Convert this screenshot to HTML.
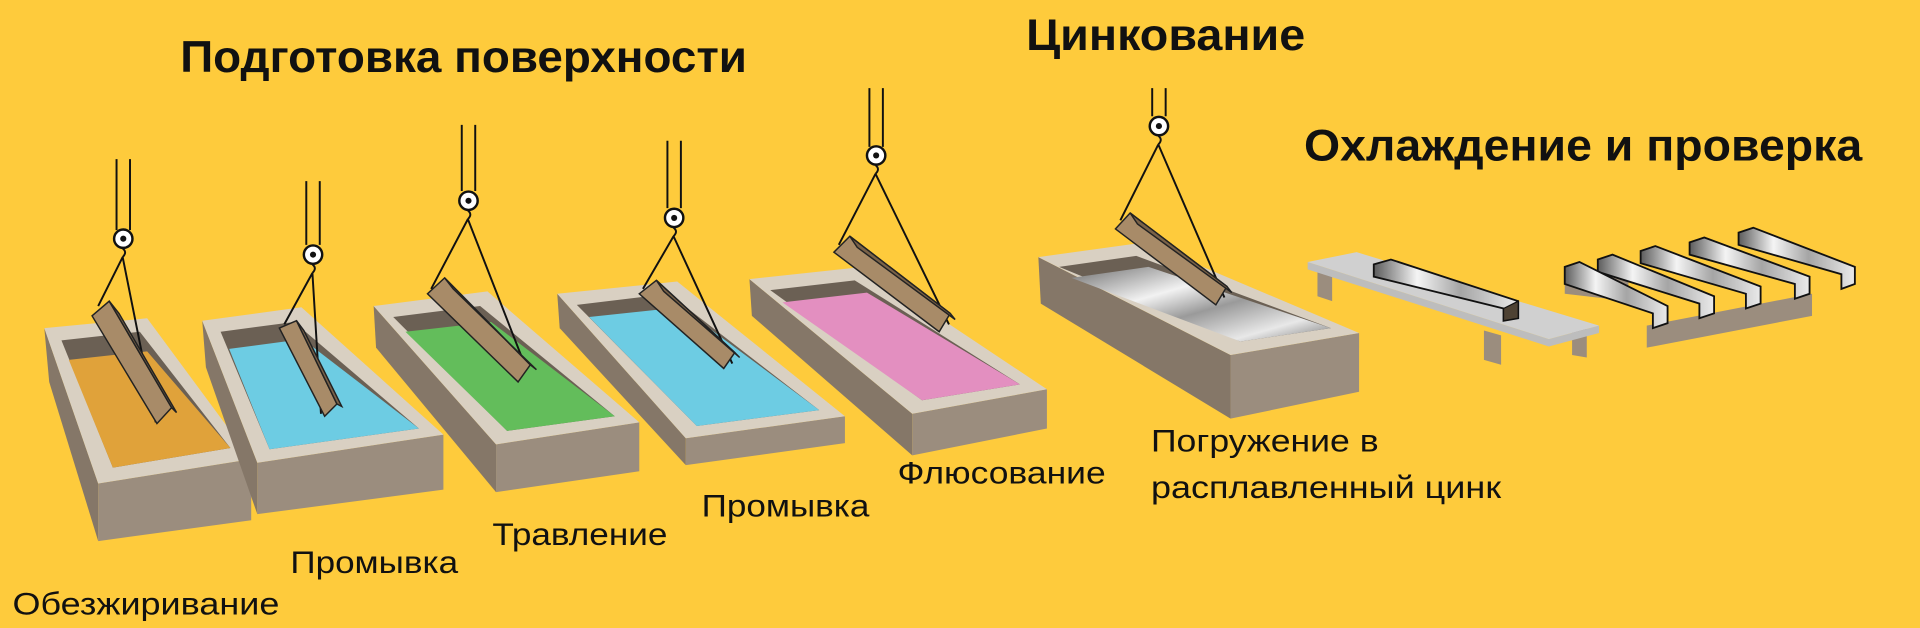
<!DOCTYPE html>
<html><head><meta charset="utf-8"><style>
html,body{margin:0;padding:0;background:#FECB3C;}
svg{display:block}
text{font-family:"Liberation Sans",sans-serif;fill:#111}
.h{font-weight:bold;font-size:36px}
.l{font-size:26px}
.rim{fill:#D9D0C2}
.front{fill:#9B8D7E}
.side{fill:#857768}
.inner{fill:#6B6054}
.c{stroke:#111;stroke-width:1.6;fill:none}
.beamA{fill:#A88B68;stroke:#222;stroke-width:1.2}
.beamB{fill:#7A6248;stroke:#222;stroke-width:1.2}
</style></head><body>
<svg width="1920" height="628" viewBox="0 0 1568 513" xmlns="http://www.w3.org/2000/svg">
<defs>
<linearGradient id="met" x1="0" y1="0" x2="1" y2="1">
<stop offset="0" stop-color="#6f6f6f"/><stop offset="0.35" stop-color="#f2f2f2"/><stop offset="0.55" stop-color="#9a9a9a"/><stop offset="0.8" stop-color="#e8e8e8"/><stop offset="1" stop-color="#777"/>
</linearGradient>
<linearGradient id="met2" x1="0" y1="0" x2="1" y2="0">
<stop offset="0" stop-color="#5c5c5c"/><stop offset="0.3" stop-color="#f4f4f4"/><stop offset="0.6" stop-color="#a5a5a5"/><stop offset="1" stop-color="#eaeaea"/>
</linearGradient>
</defs>
<rect width="1568" height="513" fill="#FECB3C"/>

<text class="h" x="147" y="59" textLength="463" lengthAdjust="spacingAndGlyphs">Подготовка поверхности</text>
<text class="h" x="838" y="41" textLength="228" lengthAdjust="spacingAndGlyphs">Цинкование</text>
<text class="h" x="1065" y="131" textLength="456" lengthAdjust="spacingAndGlyphs">Охлаждение и проверка</text>

<!-- Tank 1 -->
<polygon class="side" points="36,268 80,395 80,442 40,312"/>
<polygon class="front" points="80,395 205,375 205,425 80,442"/>
<polygon class="rim" points="36,268 120,260 205,375 80,395"/>
<polygon class="inner" points="50,278 114,271 188,366 92,382"/>
<polygon fill="#E0A23A" points="56,294 120,287 188,366 92,382"/>
<!-- Tank 2 -->
<polygon class="side" points="165,262 210,378 210,420 168,300"/>
<polygon class="front" points="210,378 362,355 362,400 210,420"/>
<polygon class="rim" points="165,262 246,251 362,355 210,378"/>
<polygon class="inner" points="180,271 240,263 342,350 220,367"/>
<polygon fill="#6DCCE3" points="187,285 247,277 342,350 220,367"/>
<!-- Tank 3 -->
<polygon class="side" points="305,250 405,363 405,402 307,284"/>
<polygon class="front" points="405,363 522,345 522,385 405,402"/>
<polygon class="rim" points="305,250 398,238 522,345 405,363"/>
<polygon class="inner" points="321,259 392,250 502,340 414,352"/>
<polygon fill="#63BD5B" points="331,271 401,263 502,340 414,352"/>
<!-- Tank 4 -->
<polygon class="side" points="455,240 560,358 560,380 457,268"/>
<polygon class="front" points="560,358 690,340 690,362 560,380"/>
<polygon class="rim" points="455,240 553,230 690,340 560,358"/>
<polygon class="inner" points="471,249 546,240 669,335 569,348"/>
<polygon fill="#6DCCE3" points="481,259 556,251 669,335 569,348"/>
<!-- Tank 5 -->
<polygon class="side" points="612,228 745,338 745,372 614,258"/>
<polygon class="front" points="745,338 855,318 855,350 745,372"/>
<polygon class="rim" points="612,228 705,218 855,318 745,338"/>
<polygon class="inner" points="629,237 698,229 833,314 753,327"/>
<polygon fill="#E38FC0" points="639,247 708,239 833,314 753,327"/>
<!-- Tank 6 -->
<polygon class="side" points="848,210 1005,290 1005,342 850,248"/>
<polygon class="front" points="1005,290 1110,272 1110,320 1005,342"/>
<polygon class="rim" points="848,210 935,198 1110,272 1005,290"/>
<polygon class="inner" points="865,218 928,209 1087,268 1013,279"/>
<polygon fill="url(#met)" points="875,227 938,218 1087,268 1013,279"/>

<!-- hoists -->
<g class="c">
<path d="M95 130V188M106 130V188"/>
<path d="M250 148V200M261 148V200"/>
<path d="M377 102V156M388 102V156"/>
<path d="M545 115V170M556 115V170"/>
<path d="M710 72V120M721 72V120"/>
<path d="M941 72V95M952 72V95"/>
</g>
<g fill="#fff" stroke="#111" stroke-width="2">
<circle cx="100.5" cy="195" r="7.5"/><circle cx="255.5" cy="208" r="7.5"/><circle cx="382.5" cy="164" r="7.5"/>
<circle cx="550.5" cy="178" r="7.5"/><circle cx="715.5" cy="127" r="7.5"/><circle cx="946.5" cy="103" r="7.5"/>
</g>
<g fill="#111">
<circle cx="100.5" cy="195" r="2.5"/><circle cx="255.5" cy="208" r="2.5"/><circle cx="382.5" cy="164" r="2.5"/>
<circle cx="550.5" cy="178" r="2.5"/><circle cx="715.5" cy="127" r="2.5"/><circle cx="946.5" cy="103" r="2.5"/>
</g>
<g class="c">
<path d="M100 203q4 3 0 7M100 210L80 250M100 210L127 345"/>
<path d="M255 216q4 3 0 7M255 223L232 265M255 223L262 338"/>
<path d="M382 172q4 3 0 7M382 179L352 236M382 179L430 302"/>
<path d="M550 186q4 3 0 7M550 193L525 236M550 193L598 297"/>
<path d="M715 135q4 3 0 7M715 142L685 200M715 142L775 265"/>
<path d="M946 111q4 3 0 7M946 118L915 180M946 118L1000 243"/>
</g>
<!-- beams -->
<polygon class="beamA" points="75,258 89,246 140,333 128,346"/>
<polygon class="beamB" points="89,246 97,256 144,337 140,333"/>
<polygon class="beamA" points="228,268 242,262 275,330 265,340"/>
<polygon class="beamB" points="242,262 248,270 279,332 275,330"/>
<polygon class="beamA" points="349,240 363,227 433,298 423,312"/>
<polygon class="beamB" points="363,227 370,236 438,302 433,298"/>
<polygon class="beamA" points="522,240 536,229 600,288 591,301"/>
<polygon class="beamB" points="536,229 542,238 604,292 600,288"/>
<polygon class="beamA" points="681,206 694,193 776,256 767,271"/>
<polygon class="beamB" points="694,193 700,202 780,261 776,256"/>
<polygon class="beamA" points="911,187 923,174 1002,234 993,249"/>
<polygon class="beamB" points="923,174 929,183 1006,239 1002,234"/>

<!-- pallet 1 -->
<polygon fill="#9B8D7E" points="1076,222 1088,226 1088,246 1076,242"/>
<polygon fill="#9B8D7E" points="1212,270 1226,274 1226,298 1212,294"/>
<polygon fill="#9B8D7E" points="1284,266 1296,268 1296,292 1284,290"/>
<polygon fill="#bdbdbd" points="1068,214 1068,220 1265,283 1306,272 1306,266 1265,277"/>
<polygon fill="#D0D0D0" points="1068,214 1108,206 1306,266 1265,277"/>
<polygon fill="url(#met2)" stroke="#111" stroke-width="1.5" points="1122,216 1136,212 1240,246 1240,260 1228,262 1228,252 1122,226"/>
<polygon fill="#4e4233" stroke="#111" stroke-width="1" points="1228,252 1240,246 1240,260 1228,262"/>
<!-- pallet 2 -->
<polygon fill="#9B8D7E" points="1278,226 1300,220 1330,230 1330,246 1278,240"/>
<polygon fill="#9B8D7E" points="1345,266 1480,240 1480,258 1345,284"/>
<g stroke="#111" stroke-width="1.5">
<polygon fill="url(#met2)" points="1420,190 1432,186 1515,218 1515,232 1504,236 1504,224 1420,200"/>
<polygon fill="url(#met2)" points="1380,198 1392,194 1478,226 1478,240 1466,244 1466,232 1380,208"/>
<polygon fill="url(#met2)" points="1340,205 1352,201 1438,234 1438,248 1426,252 1426,240 1340,215"/>
<polygon fill="url(#met2)" points="1305,212 1317,208 1400,242 1400,256 1388,260 1388,248 1305,222"/>
<polygon fill="url(#met2)" points="1278,218 1290,214 1362,250 1362,264 1350,268 1350,256 1278,232"/>
</g>

<text class="l" x="10" y="502" textLength="218" lengthAdjust="spacingAndGlyphs">Обезжиривание</text>
<text class="l" x="237" y="468" textLength="137" lengthAdjust="spacingAndGlyphs">Промывка</text>
<text class="l" x="402" y="445" textLength="143" lengthAdjust="spacingAndGlyphs">Травление</text>
<text class="l" x="573" y="422" textLength="137" lengthAdjust="spacingAndGlyphs">Промывка</text>
<text class="l" x="733" y="395" textLength="170" lengthAdjust="spacingAndGlyphs">Флюсование</text>
<text class="l" x="940" y="369" textLength="186" lengthAdjust="spacingAndGlyphs">Погружение в</text>
<text class="l" x="940" y="407" textLength="286" lengthAdjust="spacingAndGlyphs">расплавленный цинк</text>
</svg>
</body></html>
